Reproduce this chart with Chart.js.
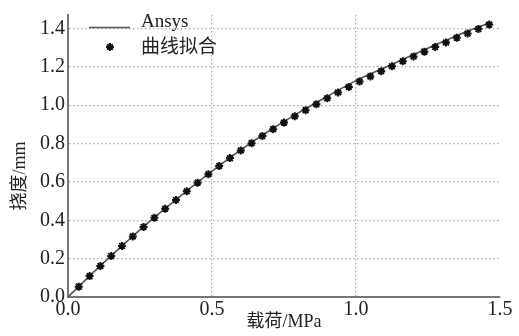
<!DOCTYPE html>
<html>
<head>
<meta charset="utf-8">
<script src="https://cdn.jsdelivr.net/npm/chart.js@4.4.1/dist/chart.umd.min.js"></script>
<style>
  html, body { margin: 0; padding: 0; background: #fff; }
  #wrap { width: 519px; height: 336px; }
</style>
</head>
<body>
<div id="wrap"><canvas id="c" width="519" height="336"></canvas></div>
<script>
// Ansys result (solid line)
const ansysX = [0, 0.1, 0.2, 0.3, 0.4, 0.5, 0.6, 0.7, 0.8, 0.9, 1.0, 1.1, 1.2, 1.3, 1.4, 1.47];
const ansysY = [0, 0.145, 0.283, 0.415, 0.538, 0.656, 0.767, 0.868, 0.960, 1.045, 1.128, 1.196, 1.264, 1.330, 1.393, 1.432];

// curve fit (star markers)
const fitX = [0.0375, 0.075, 0.1125, 0.15, 0.1875, 0.225, 0.2625, 0.3, 0.3375, 0.375,
  0.4125, 0.45, 0.4875, 0.525, 0.5625, 0.6, 0.6375, 0.675, 0.7125, 0.75,
  0.7875, 0.825, 0.8625, 0.9, 0.9375, 0.975, 1.0125, 1.05, 1.0875, 1.125,
  1.1625, 1.2, 1.2375, 1.275, 1.3125, 1.35, 1.3875, 1.425, 1.4625];
const fitY = [0.054, 0.109, 0.162, 0.214, 0.266, 0.316, 0.365, 0.413, 0.460, 0.506,
  0.551, 0.596, 0.640, 0.683, 0.724, 0.764, 0.802, 0.839, 0.875, 0.909,
  0.942, 0.974, 1.005, 1.036, 1.066, 1.095, 1.123, 1.150, 1.177, 1.203,
  1.229, 1.254, 1.279, 1.303, 1.327, 1.351, 1.374, 1.397, 1.420];

const xTicks = [0, 0.5, 1.0, 1.5];
const yTicks = [0, 0.2, 0.4, 0.6, 0.8, 1.0, 1.2, 1.4];
const xTitle = "载荷/MPa";
const yTitle = "挠度/mm";

const serif = "'Liberation Serif', 'Noto Sans CJK SC', serif";

// legend inside the plot (top left) and the rotated y title
const extras = {
  id: "extras",
  afterDraw(chart) {
    const ctx = chart.ctx;
    const ds = chart.data.datasets;
    ctx.save();
    ctx.font = "19px " + serif;
    ctx.fillStyle = "#222";
    ctx.textBaseline = "middle";
    ctx.strokeStyle = "#555";
    ctx.lineWidth = 1.5;
    ctx.beginPath();
    ctx.moveTo(89, 27.5);
    ctx.lineTo(130, 27.5);
    ctx.stroke();
    ctx.fillText(ds[0].label, 141, 22);
    ctx.strokeStyle = "#111";
    ctx.fillStyle = "#111";
    ctx.lineWidth = 2;
    Chart.helpers.drawPoint(ctx, { pointStyle: "star", radius: 4, borderWidth: 2 }, 110, 47);
    ctx.fillStyle = "#222";
    ctx.fillText(ds[1].label, 141, 48);

    ctx.font = "18px " + serif;
    ctx.textAlign = "center";
    ctx.translate(20, 176);
    ctx.rotate(-Math.PI / 2);
    ctx.fillText(yTitle, 0, 0);
    ctx.restore();
  }
};

new Chart(document.getElementById("c"), {
  type: "scatter",
  data: {
    datasets: [
      {
        label: "Ansys",
        type: "line",
        data: ansysX.map((x, i) => ({ x: x, y: ansysY[i] })),
        borderColor: "#555",
        borderWidth: 1.6,
        pointRadius: 0,
        cubicInterpolationMode: "monotone",
        fill: false,
        order: 2
      },
      {
        label: "曲线拟合",
        data: fitX.map((x, i) => ({ x: x, y: fitY[i] })),
        pointStyle: "star",
        pointRadius: 4,
        borderWidth: 2,
        borderColor: "#111",
        backgroundColor: "#111",
        showLine: false,
        clip: false,
        order: 1
      }
    ]
  },
  options: {
    responsive: false,
    animation: false,
    layout: { padding: { top: 7, right: 19, left: 0, bottom: 0 } },
    plugins: { legend: { display: false }, tooltip: { enabled: false } },
    scales: {
      x: {
        type: "linear",
        min: 0,
        max: 1.5,
        afterFit(scale) { scale.height = 39; },
        afterBuildTicks(scale) { scale.ticks = xTicks.map(v => ({ value: v })); },
        ticks: {
          font: { family: serif, size: 20 },
          color: "#222",
          padding: 1,
          maxRotation: 0,
          callback: v => v.toFixed(1)
        },
        grid: {
          color: c => (c.tick && c.tick.value >= 1.5 ? "rgba(0,0,0,0)" : "#aaa"),
          lineWidth: 1.2,
          drawTicks: false
        },
        border: { color: "#777", width: 2, dash: [1.5, 2.5] },
        title: {
          display: true,
          text: xTitle,
          font: { family: serif, size: 18 },
          color: "#222",
          padding: { top: 0, bottom: 3 }
        }
      },
      y: {
        type: "linear",
        min: 0,
        max: 1.47,
        afterFit(scale) { scale.width = 68; },
        afterBuildTicks(scale) { scale.ticks = yTicks.map(v => ({ value: v })); },
        ticks: {
          font: { family: serif, size: 20 },
          color: "#222",
          padding: 3,
          callback: v => v.toFixed(1)
        },
        grid: { color: "#aaa", lineWidth: 1.2, drawTicks: false },
        border: { color: "#777", width: 2, dash: [1.5, 2.5] }
      }
    }
  },
  plugins: [extras]
});
</script>
</body>
</html>
